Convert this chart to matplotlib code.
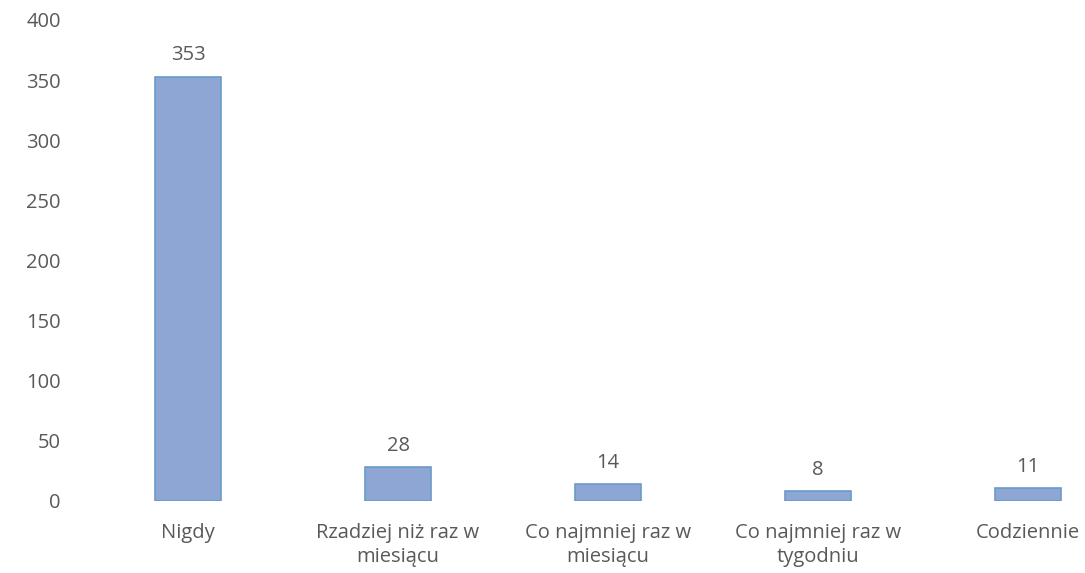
import matplotlib
matplotlib.use("Agg")
import matplotlib.pyplot as plt

categories = ["Nigdy", "Rzadziej niż raz w\nmiesiącu", "Co najmniej raz w\nmiesiącu",
              "Co najmniej raz w\ntygodniu", "Codziennie"]
values = [353, 28, 14, 8, 11]
yticks = [0, 50, 100, 150, 200, 250, 300, 350, 400]

plt.rcParams['font.family'] = ['Open Sans', 'DejaVu Sans']
grey = '#595959'
fs = 14.5

fig = plt.figure(figsize=(10.85, 5.73), dpi=100)
W, H = 1085, 573
left, right, bottom, top = 83, 1133, 501, 20
ax = fig.add_axes([left / W, 1 - bottom / H, (right - left) / W, (bottom - top) / H])

x = list(range(len(categories)))
bars = ax.bar(x, values, width=0.31, color='#8ea6d3', edgecolor='#6a9bc8', linewidth=1.2)
for xi, v in zip(x, values):
    ax.annotate(str(v), (xi, v), xytext=(0, 8), textcoords='offset points',
                ha='center', va='bottom', fontsize=fs, color=grey)

ax.set_xlim(-0.5, 4.5)
ax.set_ylim(0, 400)
ax.set_yticks(yticks)
ax.set_xticks(x)
ax.set_xticklabels(categories, fontsize=fs, color=grey, linespacing=1.25)
ax.tick_params(axis='y', labelsize=fs, labelcolor=grey, length=0, pad=16)
ax.tick_params(axis='x', length=0, pad=16)
for s in ax.spines.values():
    s.set_visible(False)

fig.savefig("out.png", dpi=100)
